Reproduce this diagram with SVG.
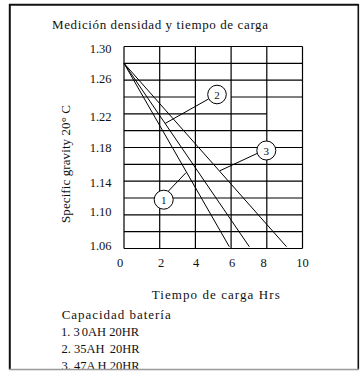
<svg xmlns="http://www.w3.org/2000/svg" width="360" height="371" viewBox="0 0 360 371">
<style>
text{font-family:"Liberation Serif","Times New Roman",serif;fill:#111;}
.t{font-size:13px;}
.n{font-size:12.5px;}
.grid line{stroke:#000;stroke-width:1.2;}
.ser{stroke:#000;stroke-width:1;fill:none;}
.call circle{fill:#fff;stroke:#000;stroke-width:1;}
.call text{font-size:11px;text-anchor:middle;}
</style>
<rect x="0" y="0" width="360" height="371" fill="#fff"/>
<text class="t" x="52" y="29" textLength="216" lengthAdjust="spacing">Medición densidad y tiempo de carga</text>
<g id="grid" class="grid">
<line x1="124" y1="46.5" x2="302.5" y2="46.5"/>
<line x1="124" y1="63.3" x2="302.5" y2="63.3"/>
<line x1="124" y1="80.2" x2="302.5" y2="80.2"/>
<line x1="124" y1="97" x2="195.4" y2="97"/>
<line x1="231.1" y1="97" x2="302.5" y2="97"/>
<line x1="124" y1="113.8" x2="266.8" y2="113.8"/>
<line x1="124" y1="130.7" x2="302.5" y2="130.7"/>
<line x1="124" y1="147.5" x2="302.5" y2="147.5"/>
<line x1="124" y1="164.3" x2="302.5" y2="164.3"/>
<line x1="124" y1="181.2" x2="302.5" y2="181.2"/>
<line x1="124" y1="198" x2="302.5" y2="198"/>
<line x1="124" y1="214.8" x2="302.5" y2="214.8"/>
<line x1="124" y1="231.7" x2="302.5" y2="231.7"/>
<line x1="124" y1="248.5" x2="302.5" y2="248.5"/>
<line x1="124" y1="46.5" x2="124" y2="248.5"/>
<line x1="159.7" y1="46.5" x2="159.7" y2="248.5"/>
<line x1="195.4" y1="46.5" x2="195.4" y2="248.5"/>
<line x1="231.1" y1="46.5" x2="231.1" y2="248.5"/>
<line x1="266.8" y1="46.5" x2="266.8" y2="248.5"/>
<line x1="302.5" y1="46.5" x2="302.5" y2="248.5"/>
</g>
<g id="y-labels" class="n" text-anchor="end">
<text x="111.5" y="52.7">1.30</text>
<text x="111.5" y="83.3">1.26</text>
<text x="111.5" y="121">1.22</text>
<text x="111.5" y="151.7">1.18</text>
<text x="111.5" y="186.7">1.14</text>
<text x="111.5" y="216">1.10</text>
<text x="111.5" y="250">1.06</text>
</g>
<g id="x-labels" class="n" text-anchor="middle">
<text x="120" y="267">0</text>
<text x="161" y="267">2</text>
<text x="196" y="267">4</text>
<text x="232" y="267">6</text>
<text x="263.7" y="267">8</text>
<text x="302.5" y="267">10</text>
</g>
<text class="t" transform="translate(70,164) rotate(-90)" text-anchor="middle" textLength="118" lengthAdjust="spacing">Specific gravity 20° C</text>
<g id="connectors">
<line class="ser" x1="124" y1="63.3" x2="229.3" y2="246.7"/>
<line class="ser" x1="124" y1="63.3" x2="249.3" y2="246.7"/>
<line class="ser" x1="124" y1="63.3" x2="286.5" y2="246.7"/>
<line class="ser" x1="168.5" y1="191" x2="186" y2="172.7"/>
<line class="ser" x1="208.5" y1="99" x2="165" y2="123.5"/>
<line class="ser" x1="257" y1="153.5" x2="220" y2="170.7"/>
</g>
<g id="callout-1" class="call"><circle cx="163.7" cy="199.7" r="9.5"/><text x="163.7" y="203.7">1</text></g>
<g id="callout-2" class="call"><circle cx="217" cy="94.5" r="9.3"/><text x="217" y="98.5">2</text></g>
<g id="callout-3" class="call"><circle cx="266.3" cy="150.5" r="9.5"/><text x="266.3" y="154.5">3</text></g>
<text class="t" x="151.7" y="299" textLength="128" lengthAdjust="spacing">Tiempo de carga Hrs</text>
<text class="t" x="61.7" y="319" textLength="109" lengthAdjust="spacing">Capacidad batería</text>
<text class="n" x="61" y="336">1. 3<tspan dx="2">0AH 20HR</tspan></text>
<text class="n" x="61.5" y="352.5">2. 35AH <tspan dx="2">20HR</tspan></text>
<text class="n" x="61.5" y="370">3. 47A<tspan dx="2">H 20HR</tspan></text>
<rect x="0" y="369.5" width="360" height="2" fill="#fff"/>
<g id="frame" fill="none">
<line x1="9" y1="4.8" x2="358.5" y2="4.8" stroke="#111" stroke-width="2"/>
<line x1="9.8" y1="4" x2="9.8" y2="369.5" stroke="#111" stroke-width="2"/>
<line x1="358.3" y1="4" x2="358.3" y2="369.5" stroke="#111" stroke-width="1.6"/>
<line x1="9" y1="369.5" x2="359" y2="369.5" stroke="#999" stroke-width="1.5"/>
</g>
</svg>
